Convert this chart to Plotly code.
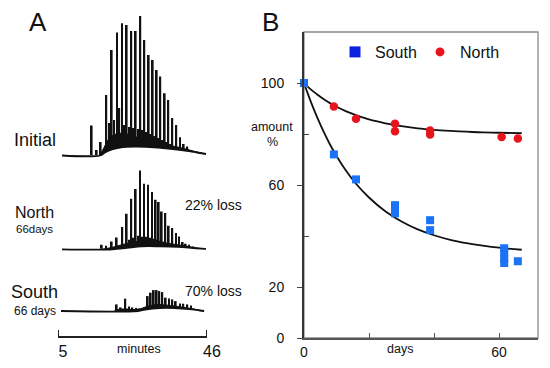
import plotly.graph_objects as go

# ---------------- Panel A data (retention time in minutes, detector response) -------------
init_peak_t = [14.27, 15.65, 16.75, 18.29, 19.78, 21.24, 22.61, 23.9, 25.17, 26.38, 27.65, 28.75,
               29.96, 31.06, 32.16, 33.15, 34.36, 35.35, 36.45, 37.55, 38.57, 39.59, 40.58, 41.6]
init_peak_h = [29.3, 5, 13, 60, 105, 122.3, 131.7, 130, 124, 124, 139, 115,
               100, 95, 85, 78.3, 61.7, 55, 37, 30, 17.7, 11, 8.3, 5]
init_minor_t = [19.1, 20.5, 21.9, 23.25, 24.55, 25.8, 27.0, 28.2, 29.35, 30.5, 31.6, 32.65,
                33.75, 34.85, 35.9, 37.0, 38.05, 39.1, 40.1]
init_minor_h = [32, 35, 47, 30, 28, 27, 26, 25, 23, 21, 19, 17, 15, 13, 11, 9, 8, 6, 4]
init_base_t = [6.1, 16.56, 17.93, 19.86, 22.06, 26.19, 30.32, 35.27, 39.95, 43.25, 45.73]
init_base_h = [0, 0, 3, 6, 8, 9, 8.5, 7, 5, 3, 1.5]
init_band_t = [16.56, 17.66, 19.31, 21.51, 23.44, 26.19, 30.32, 34.44, 38.57, 42.7, 45.73]
init_band_h = [0, 8, 18, 22, 22, 19, 14, 11, 8, 4, 1.5]

north_peak_t = [17.03, 18.2, 19.78, 21.15, 22.69, 23.9, 25.17, 26.38, 27.56, 28.66, 29.77, 30.87,
                31.88, 32.71, 33.54, 34.53, 35.46, 36.45, 37.47, 38.3, 39.31, 40.14, 41.05, 42.23]
north_peak_h = [4, 3, 7.3, 11.3, 21.7, 35, 50, 59.7, 78.3, 65, 64, 56.7,
                49, 46.7, 37.3, 35.7, 23, 20.7, 15.7, 12.3, 6.7, 5, 4, 2.3]
north_minor_t = [24.5, 25.8, 27.0, 28.1, 29.2, 30.3, 31.4, 32.3, 33.1, 34.0, 35.0, 36.0, 37.0]
north_minor_h = [9, 11, 13, 12, 12, 11, 10, 9, 8, 7, 6, 5, 4]
north_base_t = [6.1, 20, 24, 28, 33, 38, 43, 45.7]
north_base_h = [0, 0, 1.5, 3, 3, 2.5, 1, 0.5]
north_band_t = [17, 20, 23, 27, 31, 35, 39, 43, 45.7]
north_band_h = [0, 2, 5, 8, 8, 6, 4, 1.5, 0.5]

south_peak_t = [21.15, 22.25, 23.52, 24.54, 25.45, 26.55, 27.43, 29.69, 30.51, 31.34, 32.16,
                32.88, 33.7, 34.64, 35.55, 36.45, 37.39, 38.57, 39.48, 40.58, 41.6]
south_peak_h = [6, 3, 11.7, 4, 3, 2.5, 2, 14.3, 17.7, 20.3, 20.3,
                19.3, 18.3, 12.7, 12, 11, 9.3, 7, 6.7, 6, 5]
south_base_t = [5.83, 27, 29, 33, 37, 41, 44, 45.2]
south_base_h = [0, 0, 1.5, 3, 3, 2, 0.5, 0]
south_band_t = [20.5, 21.5, 24, 27, 29, 32, 36, 40, 43, 45.2]
south_band_h = [0, 1.5, 2, 1.5, 4, 6.5, 5.5, 3.5, 1.5, 0]

scale_ticks = [5, 46]

# ---------------- Panel B data (days, amount %) ----------------
south_days = [0, 9.2, 16, 28, 28, 28, 38.8, 38.8, 61.6, 61.6, 61.6, 61.6, 65.8]
south_amt = [100, 72, 62.2, 52.1, 50.5, 48.9, 46.2, 42.3, 35.2, 33.3, 31.3, 29.4, 30.1]
north_days = [9.2, 16, 28, 28, 38.8, 38.8, 60.8, 65.8]
north_amt = [90.8, 86, 84, 81.1, 81.4, 79.8, 78.8, 78.2]

fit_days = [0, 1, 2, 4, 6, 8, 10, 13, 16, 20, 25, 30, 35, 40, 45, 50, 55, 60, 67]
south_fit = [100, 96.4, 93.0, 86.7, 81.0, 75.9, 71.4, 65.5, 60.5, 55.1, 49.7, 45.7, 42.6,
             40.3, 38.5, 37.2, 36.2, 35.4, 34.6]
north_fit = [100, 98.8, 97.6, 95.6, 93.7, 92.1, 90.7, 88.9, 87.4, 85.7, 84.2, 83.1, 82.2,
             81.6, 81.2, 80.9, 80.6, 80.5, 80.3]

FONT = "Liberation Sans, Arial, sans-serif"
W, H = 550, 368


def fy(py):
    return 1 - py / H


def fx(px):
    return px / W


fig = go.Figure()


def add_chrom(ax, pt, ph, mt, mh, bt, bh, nt, nh):
    xa, ya = ("x" if ax == 1 else f"x{ax}"), ("y" if ax == 1 else f"y{ax}")
    fig.add_trace(go.Bar(x=pt, y=ph, width=0.5, base=0.6, marker=dict(color="#111", line=dict(width=0)),
                         xaxis=xa, yaxis=ya, showlegend=False, hoverinfo="skip"))
    if mt:
        fig.add_trace(go.Bar(x=mt, y=mh, width=0.4, base=0.6, marker=dict(color="#111", line=dict(width=0)),
                             xaxis=xa, yaxis=ya, showlegend=False, hoverinfo="skip"))
    fig.add_trace(go.Scatter(x=bt, y=bh, mode="lines", line=dict(color="#111", width=1.8, shape="spline"),
                             fill="tozeroy", fillcolor="white", xaxis=xa, yaxis=ya,
                             showlegend=False, hoverinfo="skip"))
    fig.add_trace(go.Scatter(x=nt, y=nh, mode="lines", line=dict(color="#111", width=1, shape="spline"),
                             fill="tonexty", fillcolor="#111", xaxis=xa, yaxis=ya,
                             showlegend=False, hoverinfo="skip"))


add_chrom(1, init_peak_t, init_peak_h, init_minor_t, init_minor_h, init_base_t, init_base_h,
          init_band_t, init_band_h)
add_chrom(2, north_peak_t, north_peak_h, north_minor_t, north_minor_h, north_base_t, north_base_h,
          north_band_t, north_band_h)
add_chrom(3, south_peak_t, south_peak_h, [], [], south_base_t, south_base_h,
          south_band_t, south_band_h)

# Panel B
fig.add_trace(go.Scatter(x=fit_days, y=north_fit, mode="lines", line=dict(color="#111", width=1.8, shape="spline"),
                         xaxis="x4", yaxis="y4", showlegend=False, hoverinfo="skip"))
fig.add_trace(go.Scatter(x=fit_days, y=south_fit, mode="lines", line=dict(color="#111", width=1.8, shape="spline"),
                         xaxis="x4", yaxis="y4", showlegend=False, hoverinfo="skip"))
fig.add_trace(go.Scatter(x=north_days, y=north_amt, mode="markers",
                         marker=dict(symbol="circle", size=8.5, color="#e8141c", line=dict(width=0)),
                         xaxis="x4", yaxis="y4", showlegend=False, cliponaxis=False))
fig.add_trace(go.Scatter(x=south_days, y=south_amt, mode="markers",
                         marker=dict(symbol="square", size=8, color="#1a73f5", line=dict(width=0)),
                         xaxis="x4", yaxis="y4", showlegend=False, cliponaxis=False))
# legend entries
fig.add_trace(go.Scatter(x=[None], y=[None], mode="markers", name="South",
                         marker=dict(symbol="square", size=11, color="#0a22e0"), xaxis="x4", yaxis="y4"))
fig.add_trace(go.Scatter(x=[None], y=[None], mode="markers", name="North",
                         marker=dict(symbol="circle", size=9, color="#e8141c"), xaxis="x4", yaxis="y4"))

xdomA = [fx(58), fx(207)]
hidden = dict(visible=False, fixedrange=True)


def ydom(baseline_py, lo, hi):
    return [fy(baseline_py - lo), fy(baseline_py - hi)]


# end ticks of the minutes scale bar (drawn in the scale-bar axis' data units)
scale_shapes = [dict(type="line", xref="x3", yref="paper", x0=v, x1=v, y0=fy(337), y1=fy(330),
                     line=dict(color="#222", width=2)) for v in scale_ticks]

layout = dict(
    width=W, height=H, margin=dict(l=0, r=0, t=0, b=0, autoexpand=False),
    paper_bgcolor="white", plot_bgcolor="rgba(0,0,0,0)",
    barmode="overlay", font=dict(family=FONT, color="#111"),
    xaxis=dict(domain=xdomA, range=[5, 46], anchor="y", **hidden),
    yaxis=dict(domain=ydom(155.5, -4, 142), range=[-4, 142], anchor="x", **hidden),
    xaxis2=dict(domain=xdomA, range=[5, 46], anchor="y2", **hidden),
    yaxis2=dict(domain=ydom(249.3, -4, 82), range=[-4, 82], anchor="x2", **hidden),
    xaxis3=dict(domain=xdomA, range=[5, 46], anchor="free", position=fy(337),
                showline=True, linecolor="#222", linewidth=2, showgrid=False, zeroline=False,
                tickmode="array", tickvals=scale_ticks, ticktext=[str(v) for v in scale_ticks],
                ticks="inside", ticklen=8, tickwidth=2, tickcolor="#222",
                tickfont=dict(size=16, family=FONT, color="#111"), ticklabelshift=5,
                ticklabelstandoff=0, fixedrange=True),
    yaxis3=dict(domain=ydom(311, -4, 24), range=[-4, 24], anchor="x3", **hidden),
    xaxis4=dict(domain=[fx(304), fx(538)], range=[0, 72], anchor="y4",
                showline=True, linecolor="#555", linewidth=1.5, mirror=False, showgrid=False,
                zeroline=False, tickmode="array", tickvals=[0, 20, 40, 60], ticktext=["0", "", "", "60"],
                ticks="inside", ticklen=5, tickcolor="#555", tickwidth=1.2,
                tickfont=dict(size=14, family=FONT, color="#111"), fixedrange=True),
    yaxis4=dict(domain=[fy(338), fy(32)], range=[0, 120], anchor="x4",
                showline=True, linecolor="#333", linewidth=2, showgrid=False, zeroline=False,
                tickmode="array", tickvals=[0, 20, 60, 100], ticktext=["0", "20", "60", "100"],
                ticks="outside", ticklen=5, tickcolor="#444", tickwidth=1.2,
                minor=dict(tickmode="array", tickvals=[40, 80], ticks="inside", ticklen=5,
                           tickcolor="#444", tickwidth=1.2),
                tickfont=dict(size=14, family=FONT, color="#111"), ticklabelstandoff=10,
                fixedrange=True),
    legend=dict(orientation="h", x=fx(335), y=fy(35), xanchor="left", yanchor="top",
                font=dict(size=16, family=FONT, color="#111"), bgcolor="rgba(0,0,0,0)",
                itemwidth=30, entrywidth=40, entrywidthmode="pixels", tracegroupgap=0,
                traceorder="normal", itemclick=False, itemdoubleclick=False),
    shapes=[dict(type="rect", xref="x4 domain", yref="y4 domain", x0=0, x1=1, y0=0, y1=1,
                 line=dict(color="#8a8a8a", width=1.3), layer="below")] + scale_shapes,
)
fig.update_layout(**layout)


def ann(text, px, py, size, xanchor="center"):
    fig.add_annotation(text=text, x=fx(px), y=fy(py), xref="paper", yref="paper",
                       showarrow=False, xanchor=xanchor, yanchor="middle",
                       font=dict(size=size, family=FONT, color="#111"))


ann("A", 38, 22, 26)
ann("B", 270, 22, 26)
ann("Initial", 35, 140, 18)
ann("North", 34, 212, 16)
ann("66days", 34, 229, 11.5)
ann("South", 34.5, 292, 18)
ann("66 days", 34.5, 311, 12)
ann("22% loss", 213, 205, 14)
ann("70% loss", 213, 291, 14)
ann("minutes", 139, 349, 12.5)
ann("amount", 272, 127, 12.5)
ann("%", 272, 142, 12.5)
ann("days", 400, 349, 12.5)

fig.write_html("out.html", config={"displayModeBar": False},
               post_script="document.body.style.margin='0px';document.body.style.overflow='hidden';")
